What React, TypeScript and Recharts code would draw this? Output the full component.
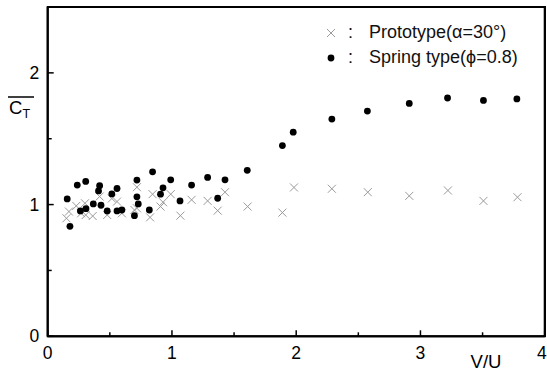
import { ScatterChart, Scatter, XAxis, YAxis, Legend } from 'recharts';

// Prototype (alpha = 30 deg), grey crosses
const protoV = [0.151, 0.171, 0.23, 0.269, 0.3, 0.306, 0.362, 0.418, 0.479, 0.516, 0.558, 0.597, 0.698, 0.718, 0.718, 0.824, 0.844, 0.908, 0.928, 0.99, 1.068, 1.158, 1.287, 1.368, 1.427, 1.609, 1.889, 1.982, 2.287, 2.576, 2.91, 3.221, 3.507, 3.781];
const protoC = [0.896, 0.947, 0.99, 0.934, 1.01, 0.921, 0.913, 1.061, 0.921, 1.046, 1.023, 0.934, 0.959, 1.132, 0.972, 0.903, 1.079, 0.985, 1.018, 1.079, 0.916, 1.036, 1.028, 0.954, 1.094, 0.985, 0.939, 1.13, 1.12, 1.094, 1.066, 1.107, 1.028, 1.056];

// Spring type (phi = 0.8), black dots
const springV = [0.157, 0.179, 0.238, 0.263, 0.306, 0.308, 0.367, 0.409, 0.418, 0.429, 0.479, 0.516, 0.558, 0.558, 0.597, 0.698, 0.718, 0.718, 0.729, 0.818, 0.844, 0.908, 0.928, 0.99, 1.065, 1.158, 1.287, 1.368, 1.427, 1.606, 1.889, 1.976, 2.287, 2.573, 2.91, 3.218, 3.507, 3.776];
const springC = [1.043, 0.835, 1.148, 0.952, 1.176, 0.969, 1.005, 1.104, 1.143, 0.995, 0.952, 1.081, 1.122, 0.952, 0.959, 0.916, 1.186, 1.059, 1.005, 0.959, 1.249, 1.079, 1.127, 1.188, 1.028, 1.148, 1.206, 1.048, 1.188, 1.26, 1.448, 1.55, 1.649, 1.71, 1.768, 1.809, 1.791, 1.802];

const xTicks = [0, 0.5, 1, 1.5, 2, 2.5, 3, 3.5, 4];
const yTicks = [0, 0.5, 1, 1.5, 2];
const xDomain = [0, 4];
const yDomain = [0, 2.5];
const seriesNames = ['Prototype(α=30°)', 'Spring type(ϕ=0.8)'];

const protoData = protoV.map((v, i) => ({ v, c: protoC[i] }));
const springData = springV.map((v, i) => ({ v, c: springC[i] }));

const FONT = '"Liberation Sans", Arial, Helvetica, sans-serif';
const INK = '#000';
const GREY = '#9a9a9a';

const W = 547;
const H = 372;
const margin = { top: 7, right: 2.3, bottom: 5.7, left: 7.7 };
const Y_AXIS_W = 40;
const X_AXIS_H = 30;
const PLOT_LEFT = margin.left + Y_AXIS_W;
const PLOT_RIGHT = W - margin.right;
const PLOT_TOP = margin.top;
const PLOT_BOTTOM = H - margin.bottom - X_AXIS_H;

function XTick({ x, y, payload }: any) {
  const major = Number.isInteger(payload.value);
  const last = payload.value === xDomain[1];
  return (
    <g>
      <line x1={x} y1={y} x2={x} y2={y - (major ? 6 : 4)} stroke={INK} strokeWidth={1.5} />
      {major && (
        <text x={last ? x + 2 : x} y={y + 23} textAnchor={last ? 'end' : 'middle'} fontSize={17.5} fontFamily={FONT} fill={INK}>
          {payload.value}
        </text>
      )}
    </g>
  );
}

function YTick({ x, y, payload }: any) {
  const major = Number.isInteger(payload.value);
  return (
    <g>
      <line x1={x} y1={y} x2={x + (major ? 6 : 4)} y2={y} stroke={INK} strokeWidth={1.5} />
      {major && (
        <text x={x - 8.5} y={y + 6} textAnchor="end" fontSize={17.5} fontFamily={FONT} fill={INK}>
          {payload.value}
        </text>
      )}
    </g>
  );
}

function CrossMark({ cx, cy }: any) {
  const s = 4;
  return (
    <path
      d={`M${cx - s},${cy - s}L${cx + s},${cy + s}M${cx - s},${cy + s}L${cx + s},${cy - s}`}
      stroke={GREY}
      strokeWidth={1}
      fill="none"
    />
  );
}

function DotMark({ cx, cy }: any) {
  return <circle cx={cx} cy={cy} r={3.4} fill="#000" />;
}

function LegendBox({ payload }: any) {
  const items = payload && payload.length
    ? payload.map((p: any) => p.value).filter((n: string) => seriesNames.includes(n))
    : seriesNames;
  return (
    <div style={{ fontFamily: FONT, fontSize: 18, color: '#111' }}>
      {items.map((name: string) => (
        <div key={name} style={{ display: 'flex', alignItems: 'center', height: 25, whiteSpace: 'nowrap' }}>
          <svg width={18} height={18}>
            {name === seriesNames[0] ? <CrossMark cx={9} cy={9} /> : <DotMark cx={9} cy={9} />}
          </svg>
          <span style={{ marginLeft: 8 }}>:</span>
          <span style={{ marginLeft: 16 }}>{name}</span>
        </div>
      ))}
    </div>
  );
}

function YLabel() {
  return (
    <g fontFamily={FONT} fill={INK}>
      <line x1={8} x2={34} y1={97} y2={97} stroke={INK} strokeWidth={1.5} />
      <text x={9} y={113.5} fontSize={18.5}>
        C<tspan fontSize={12.5} dy={4.5}>T</tspan>
      </text>
    </g>
  );
}

// x-axis title, plus the full plot frame
function XLabel() {
  return (
    <g>
      <rect
        x={PLOT_LEFT}
        y={PLOT_TOP}
        width={PLOT_RIGHT - PLOT_LEFT}
        height={PLOT_BOTTOM - PLOT_TOP}
        stroke={INK}
        strokeWidth={2}
        fill="none"
      />
      <text x={486} y={368} textAnchor="middle" fontSize={18.5} fontFamily={FONT} fill={INK}>
        V/U
      </text>
    </g>
  );
}

export default function App() {
  return (
    <div style={{ position: 'absolute', left: 0, top: 0, width: W, height: H, background: '#fff' }}>
      <ScatterChart width={W} height={H} margin={margin}>
        <XAxis
          type="number"
          dataKey="v"
          domain={xDomain}
          ticks={xTicks}
          interval={0}
          height={X_AXIS_H}
          tickSize={0}
          tickMargin={0}
          tickLine={false}
          tick={<XTick />}
          axisLine={{ stroke: INK, strokeWidth: 2 }}
          label={{ content: <XLabel /> }}
        />
        <YAxis
          type="number"
          dataKey="c"
          domain={yDomain}
          ticks={yTicks}
          interval={0}
          width={Y_AXIS_W}
          tickSize={0}
          tickMargin={0}
          tickLine={false}
          tick={<YTick />}
          axisLine={{ stroke: INK, strokeWidth: 2 }}
          label={{ content: <YLabel /> }}
        />
        <Legend
          layout="vertical"
          align="center"
          verticalAlign="middle"
          content={<LegendBox />}
          wrapperStyle={{ position: 'absolute', left: 322, top: 20, width: 'auto', height: 'auto' }}
        />
        <Scatter name={seriesNames[0]} data={protoData} shape={<CrossMark />} fill={GREY} legendType="cross" isAnimationActive={false} />
        <Scatter name={seriesNames[1]} data={springData} shape={<DotMark />} fill="#000" legendType="circle" isAnimationActive={false} />
      </ScatterChart>
      <div
        style={{
          position: 'absolute',
          zIndex: 10,
          left: PLOT_LEFT - 1,
          top: PLOT_TOP - 1,
          width: PLOT_RIGHT - PLOT_LEFT + 2,
          height: PLOT_BOTTOM - PLOT_TOP + 2,
          borderTop: `2px solid ${INK}`,
          borderRight: `2px solid ${INK}`,
          boxSizing: 'border-box',
          pointerEvents: 'none',
        }}
      />
    </div>
  );
}
